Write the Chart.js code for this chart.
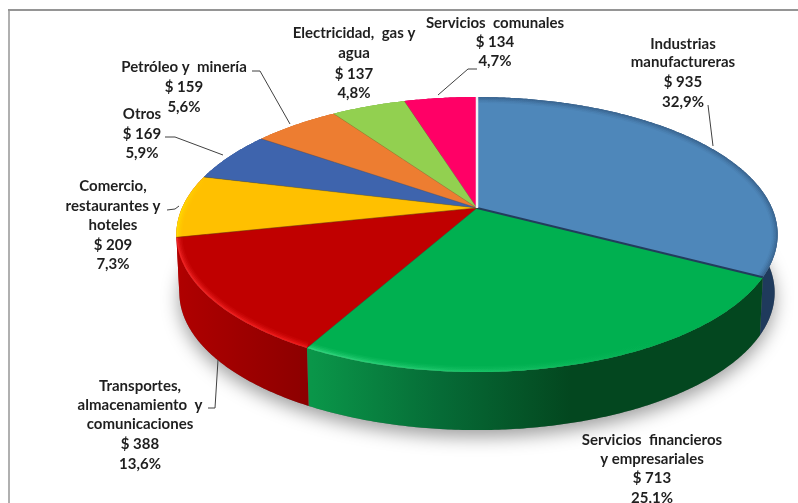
<!DOCTYPE html>
<html><head><meta charset="utf-8">
<style>html,body{margin:0;padding:0;background:#fff;overflow:hidden}canvas{display:block}</style>
<script src="https://cdn.jsdelivr.net/npm/chart.js@4"></script>
</head><body><canvas id="c" width="798" height="503"></canvas>
<script>
const categories = [
  ["Industrias","manufactureras"],
  ["Servicios  financieros","y empresariales"],
  ["Transportes,","almacenamiento  y","comunicaciones"],
  ["Comercio,","restaurantes y","hoteles"],
  ["Otros"],
  ["Petróleo y  minería"],
  ["Electricidad,  gas y","agua"],
  ["Servicios  comunales"]
];
const values = [935,713,388,209,169,159,137,134];
const faceColors = ["#4e87ba","#00b050","#c00000","#ffc000","#3e64ad","#ed7d31","#92d050","#ff0066"];
const wallColors = [["#2a4a70","#1f3a5c"],["#0a9649","#066b36","#03471f","#03471f"],["#b00000","#8a0000"],["#b00000","#b00000"],["#2b4577","#2b4577"],["#a85820","#a85820"],["#659138","#659138"],["#b30047","#b30047"]];
const rimColors = [["#1f3a5c","#1f3a5c"],["#3fe08a","#00b050"],["#ff3030","#ff2020"],["#ffe600","#ffc000"],["#3e64ad","#3e64ad"],["#ed7d31","#ed7d31"],["#92d050","#92d050"],["#ff0066","#ff0066"]];
const seamColors = ["#22385a","#0a6a35","#7a2a00","#7a6000","#2b4577","#a85820","#659138","#f0f0f4"];
const seamWidths = [2,1,1,1,1,1,1,2.5];
const seamAlphas = [0.95,0.5,0.6,0.4,0.4,0.4,0.4,1];
// label placement: centre x and the y of each text line, then the leader polyline
const labelLayout = [
  {x:683,y:[44,62,82,102],lead:[[708,105],[713,146]]},
  {x:652,y:[440,459,478,498],lead:[]},
  {x:140,y:[386,405,424,444,464],lead:[[208,408],[215,408],[218,360]]},
  {x:113,y:[186,206,225,245,264],lead:[[167,210],[175,209],[179,206]]},
  {x:142,y:[114,134,153],lead:[[165,137],[175,137],[223,155]]},
  {x:184,y:[67,87,107],lead:[[252,71],[260,71],[290,124]]},
  {x:354,y:[33,53,74,93],lead:[]},
  {x:495,y:[23,42,61],lead:[[477,69],[468,69],[438,95]]}
];
const P = {ax:477, ay:208, X:295, Y:132.4, k:0.193, depth:58, shrink:0.99};

function proj(theta, dz){           // theta: element angle from Chart.js
  const t = theta + Math.PI/2, u = Math.sin(t), v = -Math.cos(t), w = 1 - P.k*v;
  const s = dz ? P.shrink : 1;
  return [P.ax + s*P.X*u/w, P.ay + P.Y*v/w + (dz ? P.depth : 0)];
}
function rim(ctx, a0, a1, dz, first){
  const n = Math.max(2, Math.ceil(Math.abs(a1-a0)/0.01));
  for(let i=0;i<=n;i++){
    const p = proj(a0+(a1-a0)*i/n, dz);
    if(i===0 && first) ctx.moveTo(p[0],p[1]); else ctx.lineTo(p[0],p[1]);
  }
}
function gradX(ctx, x0, x1, cols){
  const g = ctx.createLinearGradient(x0,0,x1,0);
  cols.forEach((c,i)=>g.addColorStop(i/(cols.length-1),c));
  return g;
}
const pie3d = {
  id:'pie3d',
  beforeDatasetsDraw(chart){
    const ctx = chart.ctx, arcs = chart.getDatasetMeta(0).data;
    ctx.save();
    // frame
    ctx.strokeStyle="#b0b0b0"; ctx.lineWidth=2;
    ctx.beginPath(); ctx.moveTo(9,503); ctx.lineTo(9,10); ctx.stroke();
    ctx.strokeStyle="#959595";
    ctx.beginPath(); ctx.moveTo(8,10); ctx.lineTo(798,10); ctx.stroke();
    // drop shadow
    ctx.save();
    ctx.shadowColor="rgba(0,0,0,0.38)"; ctx.shadowBlur=18; ctx.shadowOffsetY=7;
    ctx.fillStyle="#777"; ctx.beginPath();
    rim(ctx,-Math.PI/2,1.5*Math.PI,true,true); ctx.closePath(); ctx.fill();
    ctx.restore();
    // walls
    arcs.forEach((a,i)=>{
      ctx.beginPath(); rim(ctx,a.startAngle,a.endAngle,false,true); rim(ctx,a.endAngle,a.startAngle,true,false); ctx.closePath();
      const xs=[proj(a.startAngle)[0],proj(a.endAngle)[0]];
      ctx.fillStyle = i===1 ? gradX(ctx,312,700,wallColors[1]) : i===2 ? gradX(ctx,175,315,wallColors[2]) : gradX(ctx,Math.min(...xs),Math.max(...xs)+1,wallColors[i]);
      ctx.fill();
    });
    // faces
    arcs.forEach((a,i)=>{
      ctx.save();
      ctx.beginPath(); ctx.moveTo(P.ax,P.ay); rim(ctx,a.startAngle,a.endAngle,false,false); ctx.closePath();
      ctx.fillStyle=faceColors[i]; ctx.fill();
      ctx.clip();
      const xs=[proj(a.startAngle)[0],proj(a.endAngle)[0]];
      ctx.strokeStyle = i===1 ? gradX(ctx,312,660,rimColors[1]) : gradX(ctx,Math.min(...xs),Math.max(...xs)+1,rimColors[i]);
      [[12,0.10],[9,0.16],[6,0.24],[3,i===0?0.3:0.5]].forEach(([w,al])=>{
        ctx.globalAlpha=i===0?al*0.6:al; ctx.lineWidth=w; ctx.beginPath(); rim(ctx,a.startAngle,a.endAngle,false,true); ctx.stroke();
      });
      ctx.restore();
    });
    // seams
    arcs.forEach((a,i)=>{
      const p=proj(a.endAngle);
      ctx.strokeStyle=seamColors[i]; ctx.lineWidth=seamWidths[i]; ctx.globalAlpha=seamAlphas[i];
      ctx.beginPath(); ctx.moveTo(P.ax,P.ay); ctx.lineTo(p[0],p[1]); ctx.stroke();
    });
    ctx.globalAlpha=1;
    ctx.restore();
    return false;
  },
  afterDraw(chart){
    const ctx = chart.ctx, total = values.reduce((s,v)=>s+v,0);
    ctx.save();
    ctx.font='bold 15px Lato'; ctx.fillStyle='#1f1f1f'; ctx.textAlign='center'; ctx.textBaseline='middle';
    categories.forEach((cat,i)=>{
      const L=labelLayout[i];
      const lines=[...cat,'$ '+values[i],(values[i]/total*100).toFixed(1).replace('.',',')+'%'];
      lines.forEach((t,j)=>ctx.fillText(t,L.x,L.y[j]));
      if(L.lead.length){
        ctx.strokeStyle='#404040'; ctx.lineWidth=1; ctx.beginPath();
        L.lead.forEach((p,j)=>j?ctx.lineTo(p[0],p[1]):ctx.moveTo(p[0],p[1])); ctx.stroke();
      }
    });
    ctx.restore();
  }
};
new Chart(document.getElementById('c'),{
  type:'pie',
  data:{labels:categories,datasets:[{data:values,backgroundColor:faceColors,borderWidth:0}]},
  options:{responsive:false,animation:false,devicePixelRatio:1,
    plugins:{legend:{display:false},tooltip:{enabled:false}}},
  plugins:[pie3d]
});
</script></body></html>
